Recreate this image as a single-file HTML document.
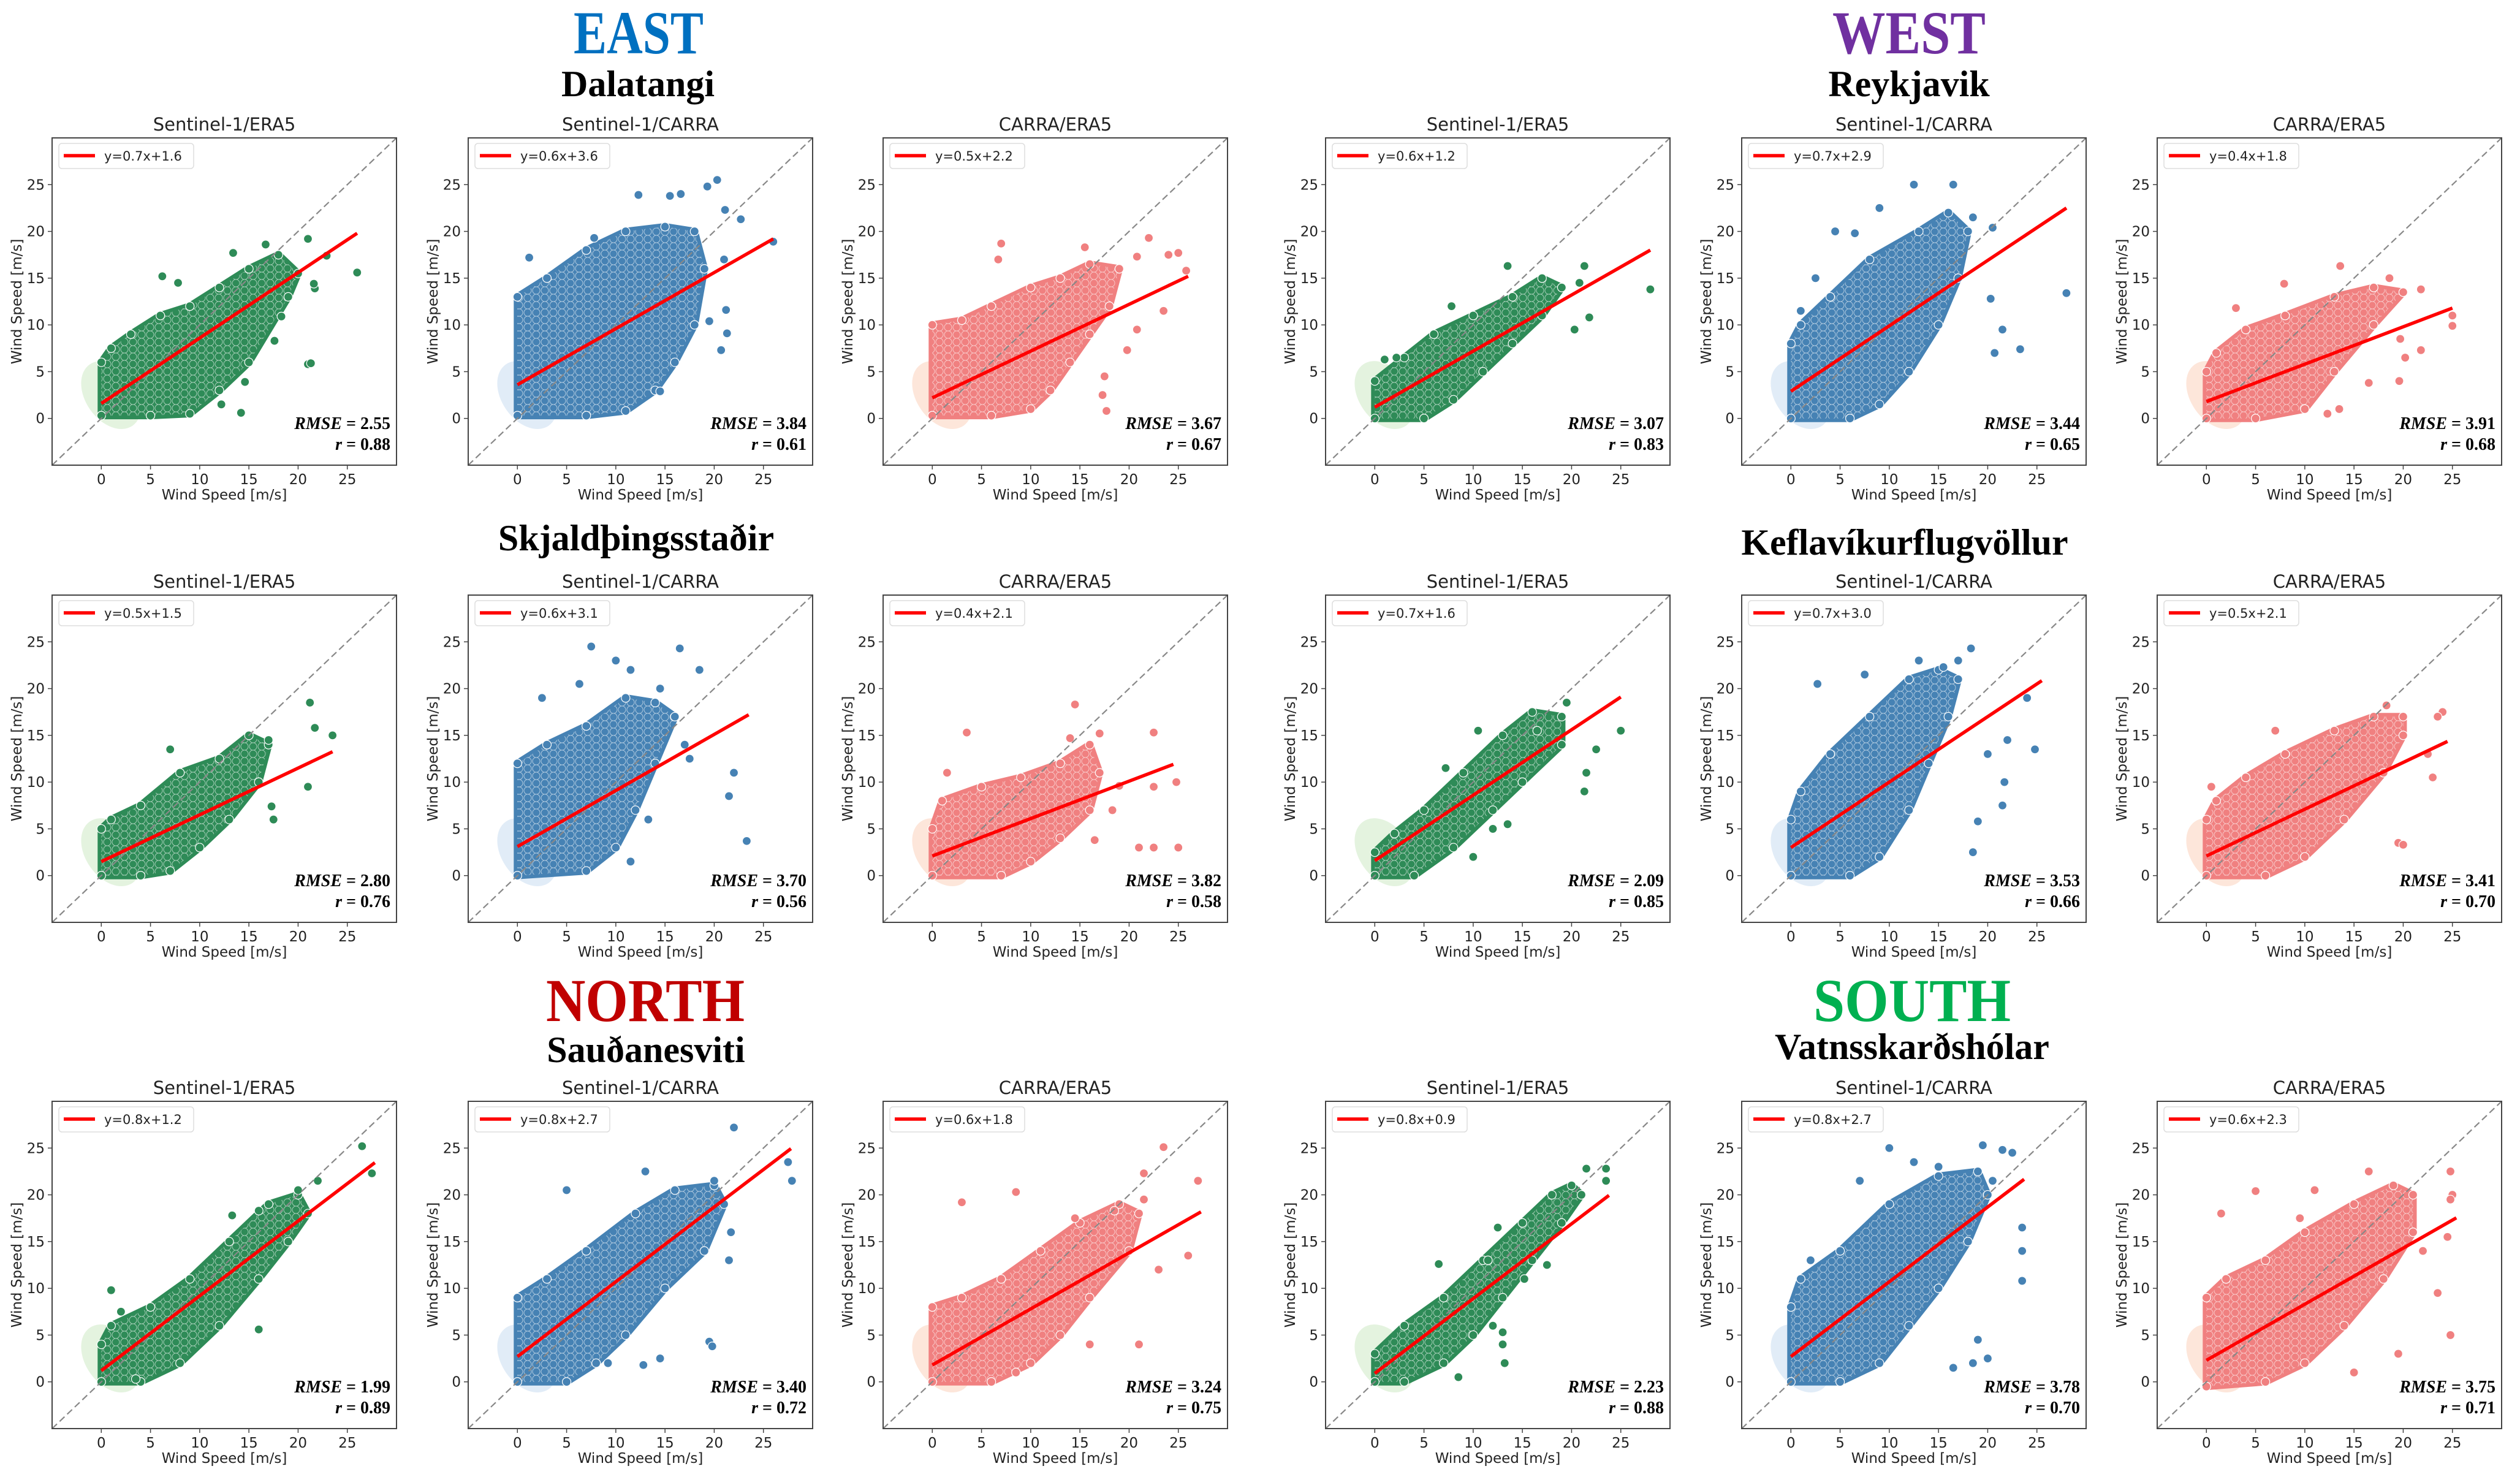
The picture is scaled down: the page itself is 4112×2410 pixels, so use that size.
<!DOCTYPE html>
<html><head><meta charset="utf-8"><style>
html,body{margin:0;padding:0;background:#fff;}
svg{display:block;}
.t{font-family:"DejaVu Sans","Liberation Sans",sans-serif;fill:#222;}
.h{font-family:"Liberation Serif","DejaVu Serif",serif;font-weight:bold;}
</style></head><body>
<svg id="fig" xmlns="http://www.w3.org/2000/svg" width="4112" height="2410" viewBox="0 0 4112 2410">
<defs>
<pattern id="tex" patternUnits="userSpaceOnUse" width="14" height="12">
<circle cx="7" cy="6" r="6" fill="none" stroke="#fff" stroke-width="1" stroke-opacity="0.55"/>
</pattern>
</defs>
<rect width="4112" height="2410" fill="#fff"/>
<text class="h" x="1042" y="87" font-size="100" fill="#0070c0" text-anchor="middle" textLength="212" lengthAdjust="spacingAndGlyphs">EAST</text>
<text class="h" x="1041" y="157" font-size="60" fill="#000" text-anchor="middle">Dalatangi</text>
<text class="h" x="3115" y="87" font-size="100" fill="#7030a0" text-anchor="middle" textLength="250" lengthAdjust="spacingAndGlyphs">WEST</text>
<text class="h" x="3115" y="157" font-size="60" fill="#000" text-anchor="middle">Reykjavik</text>
<text class="h" x="1038" y="898" font-size="60" fill="#000" text-anchor="middle">Skjaldþingsstaðir</text>
<text class="h" x="3108" y="905" font-size="60" fill="#000" text-anchor="middle">Keflavíkurflugvöllur</text>
<text class="h" x="1053" y="1666" font-size="100" fill="#c00000" text-anchor="middle" textLength="324" lengthAdjust="spacingAndGlyphs">NORTH</text>
<text class="h" x="1054" y="1733" font-size="60" fill="#000" text-anchor="middle">Sauðanesviti</text>
<text class="h" x="3120" y="1666" font-size="100" fill="#00b050" text-anchor="middle" textLength="322" lengthAdjust="spacingAndGlyphs">SOUTH</text>
<text class="h" x="3120" y="1728" font-size="60" fill="#000" text-anchor="middle">Vatnsskarðshólar</text>
<g id="panels"></g>
</svg>
<script>
const panelTitles=["Sentinel-1/ERA5","Sentinel-1/CARRA","CARRA/ERA5","Sentinel-1/ERA5","Sentinel-1/CARRA","CARRA/ERA5",
"Sentinel-1/ERA5","Sentinel-1/CARRA","CARRA/ERA5","Sentinel-1/ERA5","Sentinel-1/CARRA","CARRA/ERA5",
"Sentinel-1/ERA5","Sentinel-1/CARRA","CARRA/ERA5","Sentinel-1/ERA5","Sentinel-1/CARRA","CARRA/ERA5"];
const slopes=[0.7,0.6,0.5,0.6,0.7,0.4, 0.5,0.6,0.4,0.7,0.7,0.5, 0.8,0.8,0.6,0.8,0.8,0.6];
const intercepts=[1.6,3.6,2.2,1.2,2.9,1.8, 1.5,3.1,2.1,1.6,3.0,2.1, 1.2,2.7,1.8,0.9,2.7,2.3];
const fitXMax=[26,26,26,28,28,25, 23.5,23.5,24.5,25,25.5,24.5, 27.8,27.8,27.3,23.8,23.7,25.4];
const rmseVals=["2.55","3.84","3.67","3.07","3.44","3.91","2.80","3.70","3.82","2.09","3.53","3.41","1.99","3.40","3.24","2.23","3.78","3.75"];
const rVals=["0.88","0.61","0.67","0.83","0.65","0.68","0.76","0.56","0.58","0.85","0.66","0.70","0.89","0.72","0.75","0.88","0.70","0.71"];
const seriesKind=[0,1,2,0,1,2,0,1,2,0,1,2,0,1,2,0,1,2];
const xTicks=[0,5,10,15,20,25];
const yTicks=[0,5,10,15,20,25];
const cloudHulls=[
[[0,0.3],[5,0.3],[9,0.5],[12,3],[15,6],[19,13],[20,15.5],[18,17.5],[15,16],[12,14],[9,12],[6,11],[3,9],[1,7.5],[0,6]],
[[0,0.3],[7,0.3],[11,0.8],[14,3],[16,6],[18,10],[19,16],[18,20],[15,20.5],[11,20],[7,18],[3,15],[0,13]],
[[0,0.3],[6,0.3],[10,1],[12,3],[14,6],[16,9],[18,12],[19,16],[16,16.5],[13,15],[10,14],[6,12],[3,10.5],[0,10]],
[[0,0],[5,0],[8,2],[11,5],[14,8],[17,11],[19,14],[17,15],[14,13],[10,11],[6,9],[3,6.5],[0,4]],
[[0,0],[6,0],[9,1.5],[12,5],[15,10],[17,15],[18,20],[16,22],[13,20],[8,17],[4,13],[1,10],[0,8]],
[[0,0],[5,0],[10,1],[13,5],[17,10],[20,13.5],[17,14],[13,13],[8,11],[4,9.5],[1,7],[0,5]],
[[0,0],[4,0],[7,0.5],[10,3],[13,6],[16,10],[17,14],[15,15],[12,12.5],[8,11],[4,7.5],[1,6],[0,5]],
[[0,0],[7,0.5],[10,3],[12,7],[14,12],[16,17],[14,18.5],[11,19],[7,16],[3,14],[0,12]],
[[0,0],[7,0],[10,1.5],[13,4],[16,7],[17,11],[16,14],[13,12],[9,10.5],[5,9.5],[1,8],[0,5]],
[[0,0],[4,0],[8,3],[12,7],[15,10],[19,14],[19,17],[16,17.5],[13,15],[9,11],[5,7],[2,4.5],[0,2.5]],
[[0,0],[6,0],[9,2],[12,7],[14,12],[16,17],[17,21],[15,22],[12,21],[8,17],[4,13],[1,9],[0,6]],
[[0,0],[6,0],[10,2],[14,6],[18,11],[20,15],[20,17],[17,17],[13,15.5],[8,13],[4,10.5],[1,8],[0,6]],
[[0,0],[4,0],[8,2],[12,6],[16,11],[19,15],[21,18],[20,20],[17,19],[13,15],[9,11],[5,8],[1,6],[0,4]],
[[0,0],[5,0],[8,2],[11,5],[15,10],[19,14],[21,19],[20,21],[16,20.5],[12,18],[7,14],[3,11],[0,9]],
[[0,0],[6,0],[10,2],[13,5],[16,9],[20,14],[21,18],[19,19],[15,17],[11,14],[7,11],[3,9],[0,8]],
[[0,0],[3,0],[7,2],[10,5],[13,9],[16,13],[19,17],[21,20],[20,21],[18,20],[15,17],[11,13],[7,9],[3,6],[0,3]],
[[0,0],[5,0],[9,2],[12,6],[15,10],[18,15],[20,20],[19,22.5],[15,22],[10,19],[5,14],[1,11],[0,8]],
[[0,-0.5],[6,0],[10,2],[14,6],[18,11],[21,16],[21,20],[19,21],[15,19],[10,16],[6,13],[2,11],[0,9]]];
const outlierPts=[
[[21,5.8],[21.3,5.9],[14.2,0.6],[12.2,1.5],[26,15.6],[22.9,17.4],[21,19.2],[16.7,18.6],[6.2,15.2],[7.8,14.5],[18.3,10.9],[17.6,8.3],[14.6,3.9],[13.4,17.7],[21.7,13.9],[21.6,14.4]],
[[7.8,19.3],[20.3,25.5],[19.3,24.8],[12.3,23.9],[15.5,23.8],[16.6,24],[21.1,22.3],[22.7,21.3],[26,18.9],[21,17],[20.7,7.3],[21.3,9.1],[21.2,11.6],[19.5,10.4],[1.2,17.2],[14.5,2.9]],
[[7,18.7],[6.7,17],[15.5,18.3],[22,19.3],[24,17.5],[25,17.7],[20.8,17.3],[25.8,15.8],[23.5,11.5],[17.5,4.5],[17.7,0.8],[17.3,2.5],[20.8,9.5],[19.8,7.3]],
[[13.5,16.3],[21.3,16.3],[20.8,14.5],[7.8,12],[21.8,10.8],[20.3,9.5],[28,13.8],[1,6.3],[2.2,6.5]],
[[12.5,25],[16.5,25],[9,22.5],[4.5,20],[18.5,21.5],[21.5,9.5],[23.3,7.4],[28,13.4],[20.3,12.8],[20.7,7],[1,11.5],[2.5,15],[6.5,19.8],[20.5,20.4]],
[[13.6,16.3],[18.6,15],[21.8,13.8],[25,11],[25,9.9],[21.8,7.3],[19.7,8.5],[20.2,6.5],[19.6,4],[13.5,1],[16.5,3.8],[12.3,0.5],[3,11.8],[7.9,14.4]],
[[7,13.5],[21.2,18.5],[21.7,15.8],[23.5,15],[21,9.5],[17.3,7.4],[17.5,6],[17,14.5]],
[[7.5,24.5],[16.5,24.3],[10,23],[18.5,22],[14.5,20],[11.5,22],[6.3,20.5],[2.5,19],[21.5,8.5],[23.3,3.7],[22,11],[17,14],[13.3,6],[17.5,12.5],[11.5,1.5]],
[[14.5,18.3],[3.5,15.3],[17,15.2],[22.5,15.3],[22.5,9.5],[24.8,10],[25,3],[22.5,3],[21,3],[16.5,3.8],[1.5,11],[18.3,7],[19,9.6],[14,14.7]],
[[19.5,18.5],[22.5,13.5],[25,15.5],[21.5,11],[21.3,9],[13.5,5.5],[12,5],[10,2],[10.5,15.5],[7.2,11.5],[16.5,15.5]],
[[18.3,24.3],[17,23],[13,23],[15.5,22.3],[7.5,21.5],[2.7,20.5],[24,19],[24.8,13.5],[21.7,10],[21.5,7.5],[18.5,2.5],[19,5.8],[20,13],[22,14.5]],
[[18.3,18.2],[24,17.5],[23.5,17],[7,15.5],[22.5,13],[23,10.5],[19.5,3.5],[20,3.3],[0.5,9.5]],
[[26.5,25.2],[27.5,22.3],[22,21.5],[20,20.5],[16,18.3],[13.3,17.8],[1,9.8],[2,7.5],[16,5.6],[3.5,0.3]],
[[22,27.2],[27.5,23.5],[27.9,21.5],[13,22.5],[20,21.5],[5,20.5],[19.5,4.3],[19.8,3.8],[14.5,2.5],[9.2,2],[12.8,1.8],[21.5,13],[21.7,16]],
[[23.5,25.1],[21.5,22.3],[27,21.5],[8.5,20.3],[3,19.2],[18.5,18.3],[21.5,19.5],[21,4],[16,4],[8.5,1],[23,12],[26,13.5],[14.5,17.5]],
[[21.5,22.8],[23.5,22.8],[23.5,21.5],[12.5,16.5],[11.5,13],[6.5,12.6],[13,5.3],[13,4],[12,6],[13.2,2],[8.5,0.5],[15.2,11],[17.5,12.5]],
[[10,25],[19.5,25.3],[21.5,24.8],[22.5,24.5],[12.5,23.5],[15,23],[7,21.5],[20.5,21.5],[23.5,16.5],[23.5,10.8],[19,4.5],[16.5,1.5],[18.5,2],[20,2.5],[2,13],[23.5,14]],
[[16.5,22.5],[24.8,22.5],[25,20],[24.8,19.5],[5,20.4],[11,20.5],[1.5,18],[9.5,17.5],[24.5,15.5],[22,14],[24.8,5],[19.5,3],[15,1],[23.5,9.5]]];

const NS="http://www.w3.org/2000/svg";
const colLefts=[85,764,1441,2163,2842,3520];
const rowTops=[225,971,1797];
const W=562,H=534,DMIN=-5,DMAX=30;
const pointColors=["#2e8b57","#4682b4","#f08080"];
const kdeColors=["#e4f3df","#e1ecf7","#fde6da"];
function el(tag,attrs,parent){const e=document.createElementNS(NS,tag);for(const k in attrs)e.setAttribute(k,attrs[k]);parent.appendChild(e);return e;}
const root=document.getElementById("panels");
for(let i=0;i<18;i++){
  const L=colLefts[i%6],T=rowTops[Math.floor(i/6)];
  const sx=v=>L+(v-DMIN)/(DMAX-DMIN)*W;
  const sy=v=>T+H-(v-DMIN)/(DMAX-DMIN)*H;
  const g=el("g",{},root);
  
  
  const col=pointColors[seriesKind[i]];
  const tt=el("text",{x:L+W/2,y:T-12,"font-size":29,"text-anchor":"middle",class:"t"},g);
  tt.textContent=panelTitles[i];
  
  
  // kde
  const kd=el("ellipse",{cx:sx(1),cy:sy(2.5),rx:(sx(2.6)-sx(0)),ry:(sy(0)-sy(4)),fill:kdeColors[seriesKind[i]],transform:`rotate(-35 ${sx(1)} ${sy(2.5)})`},g);
  
  
  // cloud
  const hp=cloudHulls[i].map(p=>sx(p[0]).toFixed(1)+","+sy(p[1]).toFixed(1)).join(" ");
  const cl=el("polygon",{points:hp,fill:col,stroke:col,"stroke-width":12,"stroke-linejoin":"round"},g);
  
  
  const tx2=el("polygon",{points:hp,fill:"url(#tex)"},g);
  
  
  for(const p of cloudHulls[i].concat(outlierPts[i])){
    const c=el("circle",{cx:sx(p[0]),cy:sy(p[1]),r:7,fill:col,stroke:"#fff","stroke-width":1.2},g);
    
    
  }
  // diagonal
  const dg=el("line",{x1:sx(DMIN),y1:sy(DMIN),x2:sx(DMAX),y2:sy(DMAX),stroke:"#888","stroke-width":2.2,"stroke-dasharray":"11 6"},g);
  
  
  // fit
  const a=slopes[i],b=intercepts[i],xm=fitXMax[i];
  const fl=el("line",{x1:sx(0),y1:sy(b),x2:sx(xm),y2:sy(a*xm+b),stroke:"#ff0000","stroke-width":5.5},g);
  
  
  // box
  const bx=el("rect",{x:L,y:T,width:W,height:H,fill:"none",stroke:"#444","stroke-width":2},g);
  
  
  for(const v of xTicks){
    el("line",{x1:sx(v),y1:T+H,x2:sx(v),y2:T+H+7,stroke:"#444","stroke-width":1.5},g);
    const tx=el("text",{x:sx(v),y:T+H+31,"font-size":23,"text-anchor":"middle",class:"t"},g);
    tx.textContent=v;
    
    
  }
  for(const v of yTicks){
    el("line",{x1:L-7,y1:sy(v),x2:L,y2:sy(v),stroke:"#444","stroke-width":1.5},g);
    const ty=el("text",{x:L-12,y:sy(v)+8,"font-size":23,"text-anchor":"end",class:"t"},g);
    ty.textContent=v;
    
    
  }
  const xl=el("text",{x:L+W/2,y:T+H+56,"font-size":23,"text-anchor":"middle",class:"t"},g);
  xl.textContent="Wind Speed [m/s]";
  
  
  const yl=el("text",{x:0,y:0,"font-size":23,"text-anchor":"middle",class:"t",transform:`translate(${L-50},${T+H/2}) rotate(-90)`},g);
  yl.textContent="Wind Speed [m/s]";
  
  
  // legend
  const lg=el("g",{},g);
  
  
  el("rect",{x:L+11,y:T+9,width:220,height:41,rx:5,fill:"#fff","fill-opacity":0.85,stroke:"#ddd","stroke-width":1.5},lg);
  el("line",{x1:L+19,y1:T+29,x2:L+70,y2:T+29,stroke:"#ff0000","stroke-width":5.5},lg);
  const lt=el("text",{x:L+85,y:T+37,"font-size":21,class:"t"},lg);
  lt.textContent="y="+a.toFixed(1)+"x+"+b.toFixed(1);
  // stats
  const st=el("text",{x:L+W-10,y:T+475,"font-size":28,"text-anchor":"end",class:"h",fill:"#000"},g);
  
  
  const s1=el("tspan",{"font-style":"italic"},st);s1.textContent="RMSE";
  const s2=el("tspan",{},st);s2.textContent=" =  "+rmseVals[i];
  const rt=el("text",{x:L+W-10,y:T+509,"font-size":28,"text-anchor":"end",class:"h",fill:"#000"},g);
  
  
  const r1=el("tspan",{"font-style":"italic"},rt);r1.textContent="r";
  const r2=el("tspan",{},rt);r2.textContent=" = "+rVals[i];
}
</script>
</body></html>
